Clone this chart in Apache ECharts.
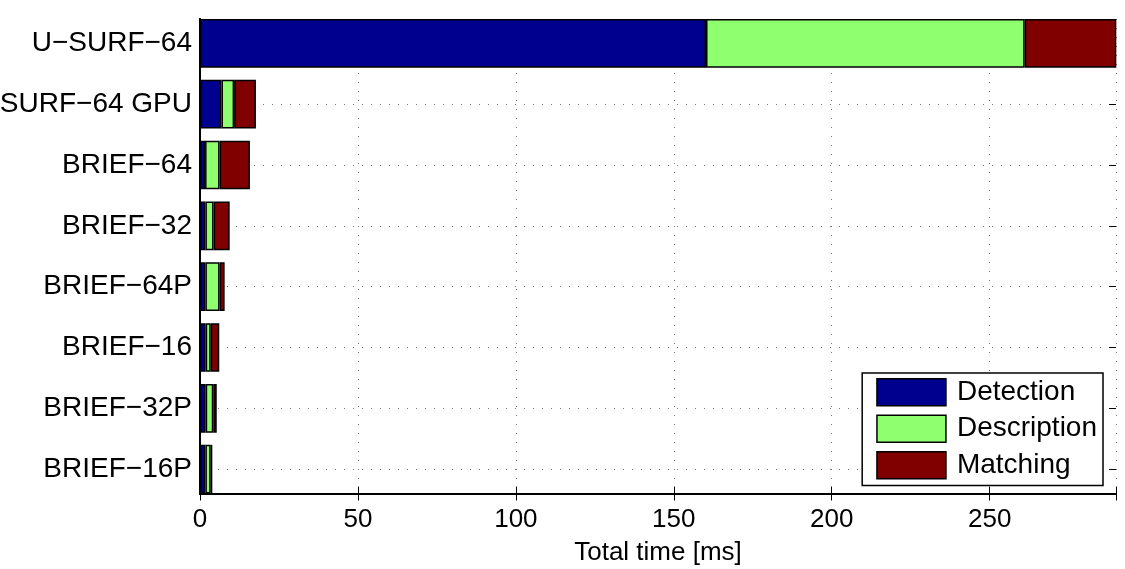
<!DOCTYPE html>
<html>
<head>
<meta charset="utf-8">
<script src="https://cdn.jsdelivr.net/npm/echarts@6/dist/echarts.min.js"></script>
<style>html,body{margin:0;padding:0;background:#fff;}#c{width:1125px;height:569px;}</style>
</head>
<body>
<div id="c"></div>
<script>
const categories = ['U−SURF−64', 'SURF−64 GPU', 'BRIEF−64', 'BRIEF−32', 'BRIEF−64P', 'BRIEF−16', 'BRIEF−32P', 'BRIEF−16P'];
const detection   = [160.2, 6.8, 1.6, 1.7, 1.7, 1.8, 1.8, 1.7];
const description = [100.9, 4.0, 4.6, 2.6, 4.5, 1.6, 2.4, 1.7];
const matching    = [29.0, 6.9, 9.6, 5.1, 1.6, 2.7, 1.1, 0.5];
const xTicks = [0, 50, 100, 150, 200, 250];

const FONT = 'Liberation Sans, Arial, Helvetica, sans-serif';
const chart = echarts.init(document.getElementById('c'));
// plot frame: y from 19 to 493.5 spans category range [-0.4, 7.4]
const frameTop = 19, frameBottom = 493.5;
const unit = (frameBottom - frameTop) / 7.8;
const barGrid = {left: 200, right: 9, top: frameTop - 0.1 * unit, bottom: 569 - (frameBottom + 0.1 * unit), outerBoundsMode: 'none', containLabel: false};
const frameGrid = {left: 200, right: 9, top: frameTop, bottom: 569 - frameBottom, outerBoundsMode: 'none', containLabel: false};
const dotted = {color: '#777', width: 1, type: [1, 8]};
const blackLine = {color: '#000', width: 2};
function barSeries(name, data, color) {
  return {
    name, type: 'bar', stack: 'total', data, barWidth: '80%',
    xAxisIndex: 0, yAxisIndex: 0,
    itemStyle: {color, borderColor: '#000', borderWidth: 1.5},
    emphasis: {disabled: true}
  };
}
chart.setOption({
  animation: false,
  grid: [barGrid, frameGrid],
  legend: {
    right: 22, top: 373, orient: 'vertical', icon: 'rect',
    itemWidth: 69, itemHeight: 27, itemGap: 8,
    padding: [5, 6, 6, 14],
    backgroundColor: '#fff', borderColor: '#000', borderWidth: 1.5,
    textStyle: {fontFamily: FONT, fontSize: 28, color: '#000', padding: [0, 0, 0, 6]},
    data: ['Detection', 'Description', 'Matching'],
    itemStyle: {borderColor: '#000', borderWidth: 1.5}
  },
  xAxis: [{
    gridIndex: 0, type: 'value', min: 0, max: 290, interval: 50,
    axisLine: {show: false}, axisTick: {show: false}, axisLabel: {show: false}, splitLine: {show: false}
  }, {
    gridIndex: 1, type: 'value', min: 0, max: 290, interval: 50,
    name: 'Total time [ms]', nameLocation: 'middle', nameGap: 46,
    nameTextStyle: {fontFamily: FONT, fontSize: 26, color: '#000'},
    axisLine: {show: true, lineStyle: blackLine},
    axisTick: {show: true, inside: true, length: 7, lineStyle: {color: '#000', width: 1}},
    axisLabel: {fontFamily: FONT, fontSize: 26, color: '#000', margin: 13,
      formatter: v => xTicks.includes(v) ? String(v) : ''},
    splitLine: {show: true, lineStyle: dotted}
  }, {
    gridIndex: 1, type: 'value', min: 0, max: 290, interval: 50, position: 'top',
    axisLine: {show: true, lineStyle: blackLine},
    axisTick: {show: true, inside: true, length: 7, lineStyle: {color: '#000', width: 1}},
    axisLabel: {show: false}, splitLine: {show: false}
  }],
  yAxis: [{
    gridIndex: 0, type: 'category', data: categories, inverse: true,
    axisLine: {show: false},
    axisTick: {show: false},
    axisLabel: {fontFamily: FONT, fontSize: 28, color: '#000', margin: 8},
    splitLine: {show: true, alignWithLabel: true, lineStyle: dotted}
  }, {
    gridIndex: 0, type: 'category', data: categories, inverse: true, position: 'right',
    axisLine: {show: false},
    axisTick: {show: true, inside: true, alignWithLabel: true, length: 7, lineStyle: {color: '#000', width: 1}},
    axisLabel: {show: false}, splitLine: {show: false}
  }, {
    gridIndex: 1, type: 'value', min: 0, max: 1, position: 'left',
    axisLine: {show: true, lineStyle: blackLine},
    axisTick: {show: false}, axisLabel: {show: false}, splitLine: {show: false}
  }, {
    gridIndex: 1, type: 'value', min: 0, max: 1, position: 'right',
    axisLine: {show: true, lineStyle: blackLine},
    axisTick: {show: false}, axisLabel: {show: false}, splitLine: {show: false}
  }],
  series: [
    barSeries('Detection', detection, '#00008F'),
    barSeries('Description', description, '#8FFF6F'),
    barSeries('Matching', matching, '#800000')
  ]
});
</script>
</body>
</html>
